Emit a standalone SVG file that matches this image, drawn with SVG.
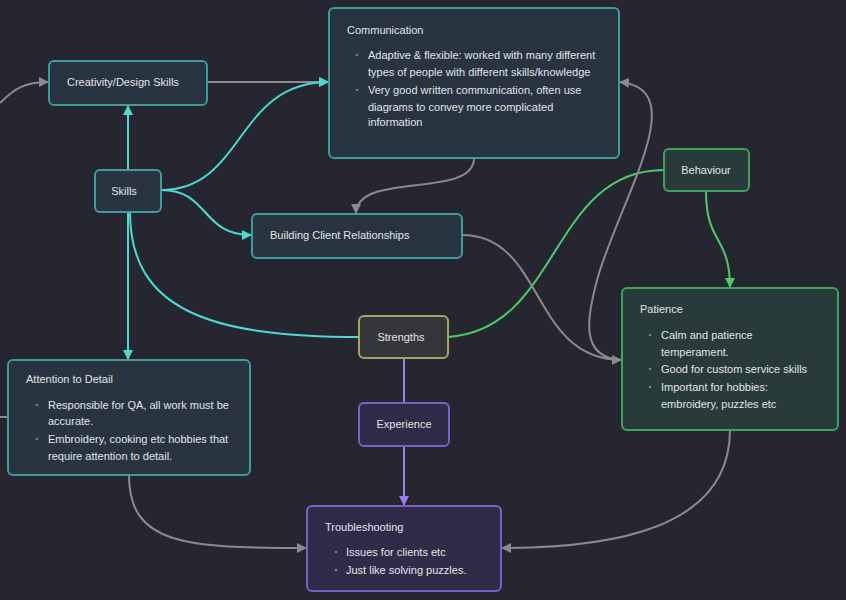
<svg xmlns="http://www.w3.org/2000/svg" width="846" height="600" viewBox="0 0 846 600">
<defs>
<marker id="aG" viewBox="0 0 10 10" refX="10" refY="5" markerWidth="10" markerHeight="10" markerUnits="userSpaceOnUse" orient="auto"><path d="M0,0 L10,5 L0,10 z" fill="#8a8a8f"/></marker>
<marker id="aT" viewBox="0 0 10 10" refX="10" refY="5" markerWidth="10" markerHeight="10" markerUnits="userSpaceOnUse" orient="auto"><path d="M0,0 L10,5 L0,10 z" fill="#4dd9d2"/></marker>
<marker id="aN" viewBox="0 0 10 10" refX="10" refY="5" markerWidth="10" markerHeight="10" markerUnits="userSpaceOnUse" orient="auto"><path d="M0,0 L10,5 L0,10 z" fill="#4ccb6e"/></marker>
<marker id="aP" viewBox="0 0 10 10" refX="10" refY="5" markerWidth="10" markerHeight="10" markerUnits="userSpaceOnUse" orient="auto"><path d="M0,0 L10,5 L0,10 z" fill="#9b7ef0"/></marker>
</defs>
<style>
text{font-family:"Liberation Sans",Arial,sans-serif;font-size:11px;fill:#e2e4e8}
.c{text-anchor:middle}
.e{fill:none;stroke-width:2}
.g{stroke:#8a8a8f}
.t{stroke:#4dd9d2}
.n{stroke:#4ccb6e}
.p{stroke:#9b7ef0}
.nt{fill:#283440;stroke:#3f9c9c;stroke-width:2}
.ng{fill:#283a3a;stroke:#3ea45c;stroke-width:2}
.ny{fill:#353639;stroke:#a6a563;stroke-width:2}
.np{fill:#302b46;stroke:#7c5fcb;stroke-width:2}
.b{fill:#7a78a8}
</style>
<rect width="846" height="600" fill="#252630"/>
<g id="connectors">
<path class="e g" d="M0,103 C15,88 25,82 49,82" marker-end="url(#aG)"/>
<path class="e g" d="M207,82 L329,82" marker-end="url(#aG)"/>
<path class="e t" d="M128,170 L128,105" marker-end="url(#aT)"/>
<path class="e t" d="M161,190 C245,190 235,82 329,82" marker-end="url(#aT)"/>
<path class="e t" d="M161,190 C210,190 200,235 252,235" marker-end="url(#aT)"/>
<path class="e t" d="M128,212 L128,360" marker-end="url(#aT)"/>
<path class="e t" d="M130,212 C130,310 210,337 359,337"/>
<path class="e n" d="M448,337 C560,330 550,170 664,170"/>
<path class="e n" d="M706,191 C706,245 730,235 730,288" marker-end="url(#aN)"/>
<path class="e p" d="M404,358 L404,403"/>
<path class="e p" d="M404,446 L404,506" marker-end="url(#aP)"/>
<path class="e g" d="M474,158 C474,200 356,170 356,214" marker-end="url(#aG)"/>
<path class="e g" d="M462,235 C545,235 530,360 622,360" marker-end="url(#aG)"/>
<path class="e g" d="M622,360 C580,358 585,320 600,270 C628,185 690,88 619,82" marker-end="url(#aG)"/>
<path class="e g" d="M730,430 C730,530 610,548 501,548" marker-end="url(#aG)"/>
<path class="e g" d="M129,475 C129,545 185,548 307,548" marker-end="url(#aG)"/>
<path class="e g" d="M0,417 L8,417"/>
</g>
<g id="creativity"><rect class="nt" x="49" y="61" width="158" height="44" rx="5"/><text x="67" y="86">Creativity/Design Skills</text></g>
<g id="communication"><rect class="nt" x="329" y="8" width="290" height="150" rx="5"/>
<text x="347" y="34">Communication</text>
<circle class="b" cx="357" cy="55" r="1.3"/><text x="368" y="59">Adaptive &amp; flexible: worked with many different</text>
<text x="368" y="76">types of people with different skills/knowledge</text>
<circle class="b" cx="357" cy="90" r="1.3"/><text x="368" y="94">Very good written communication, often use</text>
<text x="368" y="111">diagrams to convey more complicated</text>
<text x="368" y="126">information</text></g>
<g id="skills"><rect class="nt" x="95" y="170" width="66" height="42" rx="5"/><text class="c" x="124" y="195">Skills</text></g>
<g id="building"><rect class="nt" x="252" y="214" width="210" height="44" rx="5"/><text x="270" y="239">Building Client Relationships</text></g>
<g id="behaviour"><rect class="ng" x="664" y="149" width="85" height="42" rx="5"/><text class="c" x="706" y="174">Behaviour</text></g>
<g id="patience"><rect class="ng" x="622" y="288" width="216" height="142" rx="5"/>
<text x="640" y="313">Patience</text>
<circle class="b" cx="650" cy="335" r="1.3"/><text x="661" y="339">Calm and patience</text>
<text x="661" y="356">temperament.</text>
<circle class="b" cx="650" cy="369" r="1.3"/><text x="661" y="373">Good for custom service skills</text>
<circle class="b" cx="650" cy="387" r="1.3"/><text x="661" y="391">Important for hobbies:</text>
<text x="661" y="408">embroidery, puzzles etc</text></g>
<g id="strengths"><rect class="ny" x="359" y="316" width="89" height="42" rx="5"/><text class="c" x="401" y="341">Strengths</text></g>
<g id="experience"><rect class="np" x="359" y="403" width="90" height="43" rx="5"/><text class="c" x="404" y="428">Experience</text></g>
<g id="attention"><rect class="nt" x="8" y="360" width="242" height="115" rx="5"/>
<text x="26" y="383">Attention to Detail</text>
<circle class="b" cx="37" cy="405" r="1.3"/><text x="48" y="409">Responsible for QA, all work must be</text>
<text x="48" y="425">accurate.</text>
<circle class="b" cx="37" cy="439" r="1.3"/><text x="48" y="443">Embroidery, cooking etc hobbies that</text>
<text x="48" y="460">require attention to detail.</text></g>
<g id="troubleshooting"><rect class="np" x="307" y="506" width="194" height="85" rx="5"/>
<text x="325" y="531">Troubleshooting</text>
<circle class="b" cx="336" cy="552" r="1.3"/><text x="346" y="556">Issues for clients etc</text>
<circle class="b" cx="336" cy="570" r="1.3"/><text x="346" y="574">Just like solving puzzles.</text></g>
</svg>
